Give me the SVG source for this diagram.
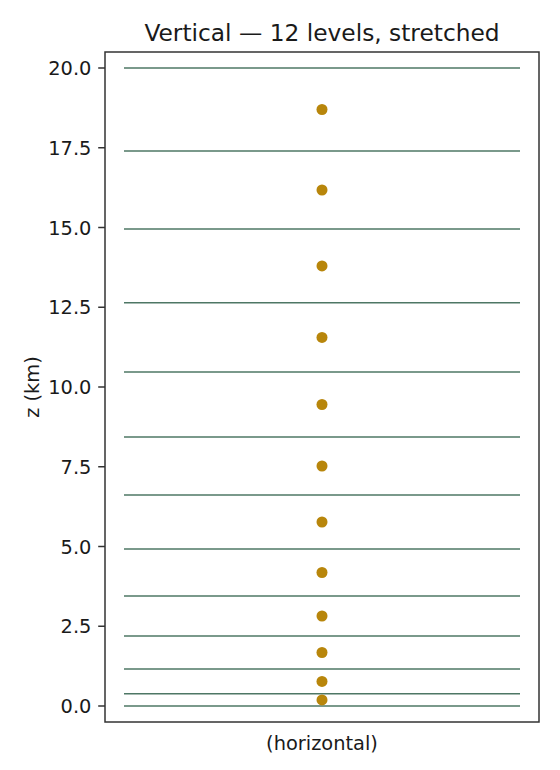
<svg xmlns="http://www.w3.org/2000/svg" width="560" height="770" viewBox="0 0 560 770">
<style>
text{font-family:"DejaVu Sans","Liberation Sans",sans-serif;fill:#1a1a1a}
.tick{font-size:19.4px;text-anchor:end}
.lvl{stroke:#4e7765;stroke-width:1.6;fill:none}
.dot{fill:#b8860b}
.tk{stroke:#333;stroke-width:1.5}
</style>
<rect width="560" height="770" fill="#fff"/>
<g id="levels">
<line class="lvl" x1="124" x2="520" y1="68" y2="68"/>
<line class="lvl" x1="124" x2="520" y1="151" y2="151"/>
<line class="lvl" x1="124" x2="520" y1="229" y2="229"/>
<line class="lvl" x1="124" x2="520" y1="302.7" y2="302.7"/>
<line class="lvl" x1="124" x2="520" y1="372" y2="372"/>
<line class="lvl" x1="124" x2="520" y1="437" y2="437"/>
<line class="lvl" x1="124" x2="520" y1="495" y2="495"/>
<line class="lvl" x1="124" x2="520" y1="549" y2="549"/>
<line class="lvl" x1="124" x2="520" y1="596" y2="596"/>
<line class="lvl" x1="124" x2="520" y1="636" y2="636"/>
<line class="lvl" x1="124" x2="520" y1="669" y2="669"/>
<line class="lvl" x1="124" x2="520" y1="693.7" y2="693.7"/>
<line class="lvl" x1="124" x2="520" y1="706" y2="706"/>
</g>
<g id="points">
<circle class="dot" cx="322" cy="699.9" r="5.5"/>
<circle class="dot" cx="322" cy="681.4" r="5.5"/>
<circle class="dot" cx="322" cy="652.5" r="5.5"/>
<circle class="dot" cx="322" cy="616" r="5.5"/>
<circle class="dot" cx="322" cy="572.5" r="5.5"/>
<circle class="dot" cx="322" cy="522" r="5.5"/>
<circle class="dot" cx="322" cy="466" r="5.5"/>
<circle class="dot" cx="322" cy="404.5" r="5.5"/>
<circle class="dot" cx="322" cy="337.4" r="5.5"/>
<circle class="dot" cx="322" cy="265.9" r="5.5"/>
<circle class="dot" cx="322" cy="190" r="5.5"/>
<circle class="dot" cx="322" cy="109.5" r="5.5"/>
</g>
<g id="axes">
<rect x="105" y="52" width="434" height="670" fill="none" stroke="#333" stroke-width="1.5"/>
<line class="tk" x1="98.2" x2="105" y1="706" y2="706"/>
<line class="tk" x1="98.2" x2="105" y1="626.25" y2="626.25"/>
<line class="tk" x1="98.2" x2="105" y1="546.5" y2="546.5"/>
<line class="tk" x1="98.2" x2="105" y1="466.75" y2="466.75"/>
<line class="tk" x1="98.2" x2="105" y1="387" y2="387"/>
<line class="tk" x1="98.2" x2="105" y1="307.25" y2="307.25"/>
<line class="tk" x1="98.2" x2="105" y1="227.5" y2="227.5"/>
<line class="tk" x1="98.2" x2="105" y1="147.75" y2="147.75"/>
<line class="tk" x1="98.2" x2="105" y1="68" y2="68"/>
<text class="tick" x="91.4" y="713">0.0</text>
<text class="tick" x="91.4" y="633.25">2.5</text>
<text class="tick" x="91.4" y="553.5">5.0</text>
<text class="tick" x="91.4" y="473.75">7.5</text>
<text class="tick" x="91.4" y="394">10.0</text>
<text class="tick" x="91.4" y="314.25">12.5</text>
<text class="tick" x="91.4" y="234.5">15.0</text>
<text class="tick" x="91.4" y="154.75">17.5</text>
<text class="tick" x="91.4" y="75">20.0</text>
<text x="322" y="750" font-size="19.4" text-anchor="middle">(horizontal)</text>
<text transform="translate(38.5,387) rotate(-90)" font-size="19.4" text-anchor="middle">z (km)</text>
<text x="322" y="41" font-size="23.3" text-anchor="middle">Vertical — 12 levels, stretched</text>
</g>
</svg>
